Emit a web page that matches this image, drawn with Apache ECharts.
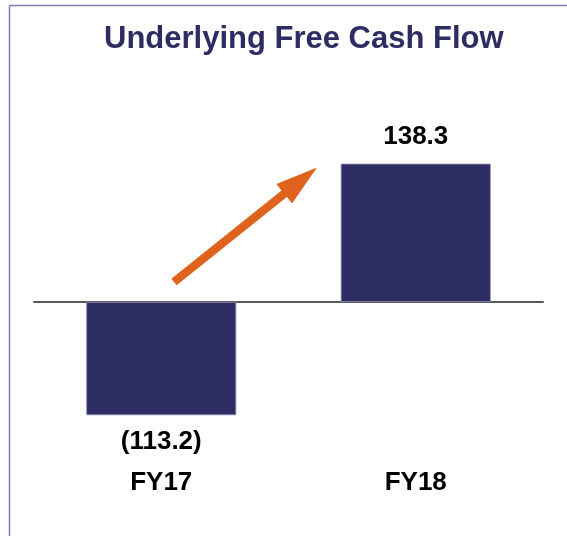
<!DOCTYPE html>
<html>
<head>
<meta charset="utf-8">
<style>
  html, body { margin: 0; padding: 0; background: #fff; }
  #chart { width: 567px; height: 536px; }
</style>
<script src="https://cdn.jsdelivr.net/npm/echarts@6/dist/echarts.min.js"></script>
</head>
<body>
<div id="chart"></div>
<script>
// Data
const categories = ['FY17', 'FY18'];
const cashFlow = [-113.2, 138.3];

const navy = '#2E2D63';
const orange = '#E0631D';
const font = "'Liberation Sans', Arial, sans-serif";

const chart = echarts.init(document.getElementById('chart'));

// arrow decoration (pixel space, it is not data)
function arrowShape(tail, tip, shaft, headW, headL) {
  const dx = tip[0] - tail[0], dy = tip[1] - tail[1];
  const len = Math.sqrt(dx * dx + dy * dy);
  const ux = dx / len, uy = dy / len;
  const px = -uy, py = ux;
  const bx = tip[0] - ux * headL, by = tip[1] - uy * headL;
  const s = shaft / 2, h = headW / 2;
  return [
    [tail[0] + px * s, tail[1] + py * s],
    [bx + px * s, by + py * s],
    [bx + px * h, by + py * h],
    tip,
    [bx - px * h, by - py * h],
    [bx - px * s, by - py * s],
    [tail[0] - px * s, tail[1] - py * s]
  ];
}

const option = {
  animation: false,
  title: {
    text: 'Underlying Free Cash Flow',
    left: 99,
    top: 19,
    textStyle: { color: navy, fontSize: 31, fontWeight: 'bold', fontFamily: font }
  },
  grid: { left: 34, right: 24, top: 142, bottom: 74 },
  xAxis: [
    {
      type: 'category',
      data: categories,
      axisLine: { onZero: true, lineStyle: { color: '#5B5B5B', width: 2 } },
      axisTick: { show: false },
      axisLabel: { show: false }
    },
    {
      type: 'category',
      data: categories,
      position: 'bottom',
      axisLine: { show: false, onZero: false },
      axisTick: { show: false },
      axisLabel: {
        margin: 8,
        color: '#000',
        fontSize: 26,
        fontWeight: 'bold',
        fontFamily: font
      }
    }
  ],
  yAxis: {
    type: 'value',
    min: -160,
    max: 160,
    show: false,
    splitLine: { show: false }
  },
  series: [
    {
      type: 'bar',
      xAxisIndex: 0,
      barWidth: 150,
      z: 1,
      data: cashFlow.map(v => ({
        value: v,
        label: { position: v < 0 ? 'bottom' : 'top' }
      })),
      itemStyle: { color: navy, borderColor: '#8F8EB8', borderWidth: 0.8 },
      label: {
        show: true,
        distance: 14,
        color: '#000',
        fontSize: 26,
        fontWeight: 'bold',
        fontFamily: font,
        formatter: p => p.value < 0 ? '(' + Math.abs(p.value).toFixed(1) + ')' : p.value.toFixed(1)
      }
    }
  ],
  graphic: [
    {
      type: 'line',
      shape: { x1: 9.5, y1: 5.5, x2: 567, y2: 5.5 },
      style: { stroke: '#7F7EAA', lineWidth: 1.5 }
    },
    {
      type: 'line',
      shape: { x1: 9.5, y1: 5.5, x2: 9.5, y2: 536 },
      style: { stroke: '#7F7EAA', lineWidth: 1.5 }
    },
    {
      type: 'polygon',
      z: 10,
      shape: { points: arrowShape([174, 282], [317, 167.5], 8.5, 25, 42) },
      style: { fill: orange }
    }
  ]
};

chart.setOption(option);
</script>
</body>
</html>
